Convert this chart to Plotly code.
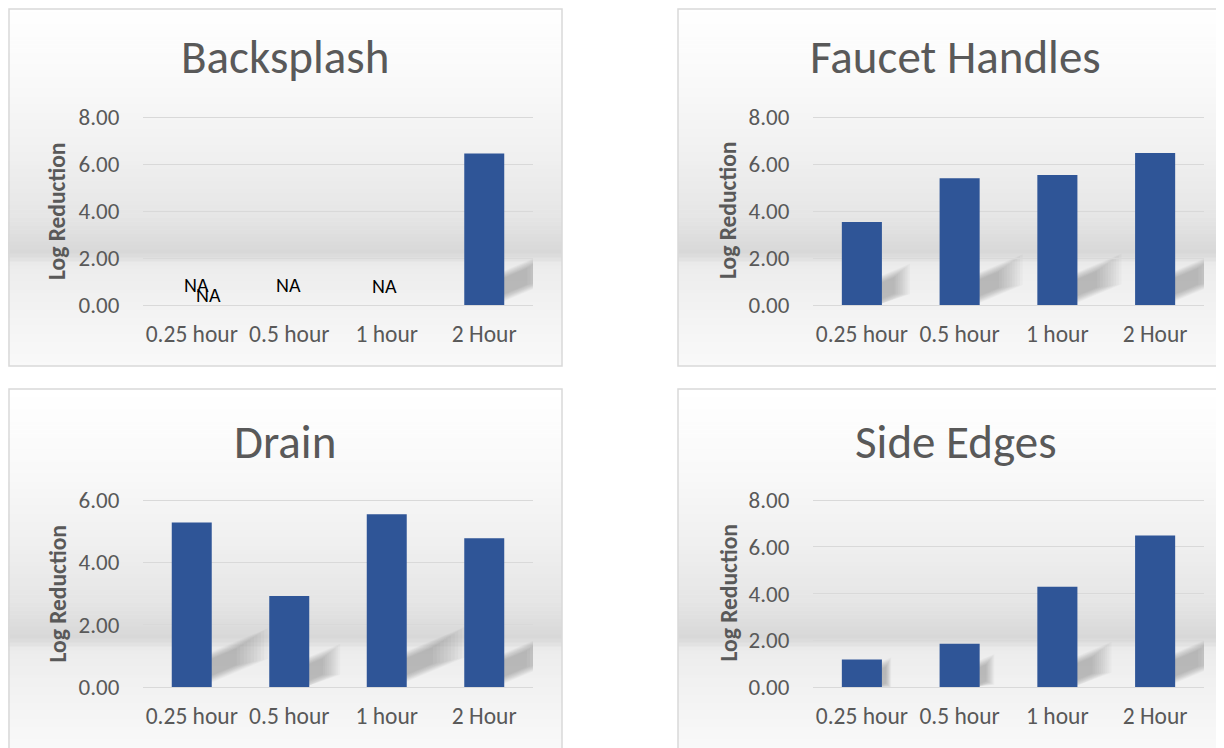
import plotly.graph_objects as go

# ---------------- data ----------------
categories = ["0.25 hour", "0.5 hour", "1 hour", "2 Hour"]
panel_titles = ["Backsplash", "Faucet Handles", "Drain", "Side Edges"]
backsplash = [None, None, None, 6.45]
faucet_handles = [3.53, 5.39, 5.53, 6.47]
drain = [5.28, 2.92, 5.54, 4.77]
side_edges = [1.18, 1.85, 4.29, 6.48]
y_max = [8, 8, 6, 8]
y_ticks_step = 2
y_title = "Log Reduction"
# "NA" data labels of the Backsplash chart
na_text = ["NA", "NA", "NA", "NA"]
na_cat_index = [0, 0, 1, 2]
na_y = [0.85, 0.43, 0.83, 0.81]
na_xshift = [5, 17, -1, -2]

series = [backsplash, faucet_handles, drain, side_edges]

# ---------------- layout helpers ----------------
W, H = 1224, 748
OFF = 8  # page body margin in the browser
def px(x):
    return (x - OFF) / W
def py(y):
    return 1 - (y - OFF) / H

FONT = "Carlito, Calibri, Lato, sans-serif"
GREY_TXT = "#595959"
BAR = "#2F5597"
GRID = "#d9d9d9"

panel_boxes = [(7, 4, 562, 366), (678, 4, 1233, 366),
               (7, 389, 562, 751), (678, 389, 1233, 751)]
plot_x = [(143, 533), (813, 1204), (143, 533), (813, 1204)]
plot_y = [(117, 305), (117, 305), (500, 687), (500, 687)]

fig = go.Figure()
shapes = []
annotations = []

stops = [(0.00, 255), (0.22, 249), (0.42, 240), (0.58, 230), (0.685, 216),
         (0.70, 222), (0.72, 236), (0.85, 243), (1.00, 249)]
def grey_at(f):
    for (a, ga), (b, gb) in zip(stops[:-1], stops[1:]):
        if a <= f <= b:
            t = (f - a) / (b - a) if b > a else 0
            return ga + (gb - ga) * t
    return stops[-1][1]

N = 90
for (x0, y0, x1, y1) in panel_boxes:
    hgt = y1 - y0
    for k in range(N):
        f = (k + 0.5) / N
        g = int(round(grey_at(f)))
        shapes.append(dict(type="rect", xref="paper", yref="paper", layer="below",
                           x0=px(x0), x1=px(x1),
                           y0=py(y0 + hgt * k / N), y1=py(y0 + hgt * (k + 1) / N + 0.6),
                           line=dict(width=0), fillcolor=f"rgb({g},{g},{g})"))
    bx0 = max(x0, OFF + 1)
    by0 = max(y0, OFF + 1)
    shapes.append(dict(type="rect", xref="paper", yref="paper", layer="below",
                       x0=px(bx0), x1=px(x1), y0=py(by0), y1=py(y1),
                       line=dict(color="#d9d9d9", width=1.5), fillcolor="rgba(0,0,0,0)"))

bar_w = 0.41
for i, vals in enumerate(series):
    n = i + 1
    xa = "x" if n == 1 else f"x{n}"
    ya = "y" if n == 1 else f"y{n}"
    fig.add_trace(go.Bar(x=list(range(len(categories))), y=vals, width=bar_w,
                         marker=dict(color=BAR, line=dict(width=0)),
                         xaxis=xa, yaxis=ya, showlegend=False, hoverinfo="skip"))
    ppu = (plot_y[i][1] - plot_y[i][0]) / y_max[i]
    ytop = y_max[i] + 2.0 / ppu
    xd = (px(plot_x[i][0]), px(plot_x[i][1]))
    yd = (py(plot_y[i][1]), py(plot_y[i][1] - ytop * ppu))
    ax_key = "xaxis" if n == 1 else f"xaxis{n}"
    ay_key = "yaxis" if n == 1 else f"yaxis{n}"
    fig.layout[ax_key] = dict(domain=list(xd), anchor=ya, range=[-0.5, 3.5],
                              tickmode="array", tickvals=list(range(len(categories))),
                              ticktext=categories, showgrid=False, zeroline=False,
                              showline=True, linecolor=GRID, linewidth=1.3,
                              ticks="outside", ticklen=8, tickcolor="rgba(0,0,0,0)",
                              tickfont=dict(family=FONT, size=23.5, color=GREY_TXT),
                              fixedrange=True)
    fig.layout[ay_key] = dict(domain=list(yd), anchor=xa, range=[0, ytop],
                              tickmode="linear", dtick=y_ticks_step, tick0=0, tickformat=".2f",
                              showgrid=True, gridcolor=GRID, gridwidth=1.3,
                              zeroline=False, showline=False,
                              ticks="outside", ticklen=18, tickcolor="rgba(0,0,0,0)",
                              tickfont=dict(family=FONT, size=23, color=GREY_TXT),
                              fixedrange=True)
    # soft perspective shadows: a blurred diagonal streak right of each bar
    ppc = (plot_x[i][1] - plot_x[i][0]) / 4   # pixels per category
    wpx = bar_w * ppc
    slope = 0.42
    for j, v in enumerate(vals):
        if v is None:
            continue
        hpx = v * ppu
        xr = j + bar_w / 2
        off = 0.07 * hpx
        L = 10
        for k in range(L):
            t = k / (L - 1)
            dxk = 0.34 * hpx * (1 - 0.55 * t)
            b = 7.0 * (1 - t)
            lo0 = off - b
            hi0 = off + wpx * slope + b
            pts = [(-4, lo0 - 4 * slope), (dxk, lo0 + slope * dxk),
                   (dxk, hi0 + slope * dxk), (-4, hi0 - 4 * slope)]
            path = "M" + " L".join(f"{xr + X / ppc},{max(Y, 0) / ppu}" for X, Y in pts) + " Z"
            shapes.append(dict(type="path", xref=xa, yref=ya, layer="below",
                               path=path, fillcolor="rgba(0,0,0,0.024)",
                               line=dict(width=0)))
    bx0, by0, bx1, by1 = panel_boxes[i]
    annotations.append(dict(xref="paper", yref="paper", x=px((bx0 + bx1) / 2),
                            y=py(by0 + 53), text=panel_titles[i], showarrow=False,
                            xanchor="center", yanchor="middle",
                            font=dict(family=FONT, size=47, color=GREY_TXT)))
    annotations.append(dict(xref="paper", yref="paper", x=px(bx0 + 50),
                            y=py((plot_y[i][0] + plot_y[i][1]) / 2), text=f"<b>{y_title}</b>",
                            textangle=-90, showarrow=False, xanchor="center", yanchor="middle",
                            font=dict(family=FONT, size=23.5, color=GREY_TXT)))

for t, ci, yv, xs in zip(na_text, na_cat_index, na_y, na_xshift):
    annotations.append(dict(xref="x", yref="y", x=ci, y=yv, text=t, showarrow=False,
                            xshift=xs, xanchor="center", yanchor="middle",
                            font=dict(family=FONT, size=20, color="#000000")))

fig.update_layout(width=W, height=H, margin=dict(l=0, r=0, t=0, b=0, autoexpand=False),
                  paper_bgcolor="#ffffff", plot_bgcolor="rgba(0,0,0,0)",
                  shapes=shapes, annotations=annotations, bargap=0.59)

fig.write_html("out.html")
